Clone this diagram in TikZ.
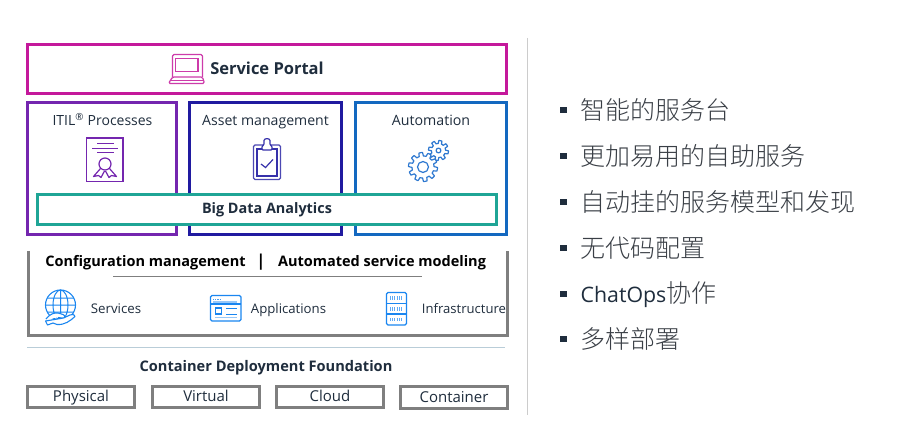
\documentclass[tikz,border=0pt]{standalone}
\usepackage{fontspec}
\setmainfont{Open Sans}
\newfontfamily\cjk{Noto Sans CJK SC Light}
\definecolor{pinkc}{HTML}{C4189B}
\definecolor{purplec}{HTML}{7426AF}
\definecolor{navyc}{HTML}{201AA0}
\definecolor{bluec}{HTML}{1368C0}
\definecolor{tealc}{HTML}{1FA596}
\definecolor{greyc}{HTML}{7F7F7F}
\definecolor{inkc}{HTML}{1F2D3D}
\definecolor{iconb}{HTML}{1A86F0}
\definecolor{gearc}{HTML}{2E78D0}
\definecolor{cjkc}{HTML}{3A3F46}
\definecolor{rulec}{HTML}{B9CDD8}
\newcommand{\fs}[1]{\fontsize{#1}{#1}\selectfont}
\tikzset{
  x=1pt,y=-1pt,
  framebox/.style={draw=#1,line width=3pt,fill=none,inner sep=0pt,outer sep=0pt},
  footbox/.style={draw=greyc,line width=3pt,fill=white,inner sep=0pt,minimum height=21pt,text=inkc,font=\fs{15},text height=13pt,text depth=3.5pt},
  label/.style={inner sep=0pt,text=inkc,anchor=base},
  heavy/.style={inner sep=0pt,text=black,anchor=base,font=\fs{14.5}\bfseries},
  bulletmark/.style={fill=inkc,inner sep=0pt,minimum size=6.5pt},
  listitem/.style={anchor=west,inner sep=0pt,text=cjkc,font=\fs{25}\cjk},
  gearline/.style={draw=gearc,line width=1.2pt,line join=round},
}
\newcommand{\gear}[6]{% cx cy rin rout teeth hole
  \draw[gearline,fill=white] plot[domain=0:360,samples=361] ({#1+(#3+(#4-#3)*max(0,min(1,0.5+1.4*sin(#5*\x)))*1)*cos(\x)},{#2+(#3+(#4-#3)*max(0,min(1,0.5+1.4*sin(#5*\x)))*1)*sin(\x)}) -- cycle;
  \draw[gearline] (#1,#2) circle (#6);
}
\begin{document}
\begin{tikzpicture}
\useasboundingbox (0,0) rectangle (898,441);
\fill[white] (0,0) rectangle (898,441);

% top frames
\node[framebox=pinkc,minimum width=479pt,minimum height=49pt] (portal) at (267,69) {};
\node[framebox=purplec,minimum width=149pt,minimum height=132pt] (itil) at (102,168.5) {};
\node[framebox=navyc,minimum width=152pt,minimum height=132pt] (asset) at (265.5,168.5) {};
\node[framebox=bluec,minimum width=151pt,minimum height=132pt] (auto) at (431,168.5) {};
\node[framebox=tealc,fill=white,minimum width=459pt,minimum height=30pt] (bigdata) at (267,209.5) {};

\node[label,font=\fs{16.5}\bfseries] (portaltext) at (267,74.5) {Service Portal};
\node[label,font=\fs{14}] (itiltext) at (102.5,126) {ITIL\textsuperscript{®} Processes};
\node[label,font=\fs{14.1}] (assettext) at (265.5,126) {Asset management};
\node[label,font=\fs{14.2}] (autotext) at (431,126) {Automation};
\node[label,font=\fs{14.4}\bfseries] (bigtext) at (267,214) {Big Data Analytics};

% laptop
\draw[pinkc!85,line width=1.2pt,rounded corners=1.5pt,line join=round]
  (172.5,77) -- (172.5,54.5) -- (202.5,54.5) -- (202.5,77);
\draw[pinkc!85,line width=1.2pt] (175.5,58.5) rectangle (198,71.5);
\draw[pinkc!85,line width=1.2pt,rounded corners=1.5pt]
  (172.5,77) -- (202.5,77) -- (204.5,83.5) -- (168.5,83.5) -- cycle;
\draw[pinkc!85,line width=.8pt] (170,80.5) -- (203.5,80.5);

% certificate
\draw[purplec,line width=1.2pt] (86.8,138) rectangle (123,181.5);
\draw[purplec,line width=1pt] (97,144) -- (114,144) (92,148.5) -- (118,148.5) (97,153) -- (114,153);
\draw[purplec,line width=1.2pt] (105,164) circle (6);
\draw[purplec,line width=1.2pt,line join=round]
  (100.5,168.5) -- (93.5,176.5) -- (98.5,175.5) -- (101,177.5) -- (104.5,171)
  (109.5,168.5) -- (116.5,176.5) -- (111.5,175.5) -- (109,177.5) -- (105.5,171);

% clipboard
\draw[navyc!80,line width=1.2pt,rounded corners=1.5pt] (253.5,145) rectangle (280.5,179.5);
\draw[navyc!90,line width=1.1pt] (257,149) rectangle (277,176);
\draw[navyc!90,fill=white,line width=1.2pt,rounded corners=1pt]
  (262,150) -- (262,146) -- (264,145) -- (264,141.5) .. controls (264,138) and (270,138) .. (270,141.5) -- (270,145) -- (272,146) -- (272,150) -- cycle;
\draw[navyc!90,line width=1.2pt] (261,164) -- (265.5,167.5) -- (273,159.5);

% gears
\gear{438.5}{150.5}{7}{10}{8}{2.4}
\gear{423}{167}{11}{14.5}{10}{5.5}

% configuration frame
\draw[greyc,line width=3pt] (28.5,251) -- (28.5,335.5) -- (507.5,335.5) -- (507.5,251);
\node[heavy] (cfg) at (145.5,266) {Configuration management};
\node[heavy,font=\fs{16.5}\bfseries] (bar) at (261,266.5) {|};
\node[heavy] (asm) at (382,266) {Automated service modeling};
\coordinate (ruleL) at (113,276);
\coordinate (ruleR) at (422,276);
\draw[greyc,line width=.9pt] (ruleL) -- (ruleR);

% globe
\draw[iconb,line width=1.1pt] (60.5,305) circle (15);
\draw[iconb,line width=1pt] (60.5,305) ellipse (7.5 and 15) (60.5,290) -- (60.5,320)
  (45.5,305) -- (75.5,305) (47.5,298) -- (73.5,298) (47.5,312) -- (73.5,312);
\draw[iconb,fill=white,line width=1.1pt,line join=round]
  (46,319) .. controls (50,314) and (54,312.5) .. (58,313) -- (63,314.5) .. controls (66,315.5) and (65,318.5) .. (62,318) -- (58,317.5)
  (63.5,318) -- (70,315) .. controls (73,314) and (75.5,315) .. (75,316.5) .. controls (70,321) and (65,325) .. (57,324.5) -- (53,323) -- (47.5,325) -- (45.5,321) -- cycle;
\node[label,font=\fs{13.3}] (services) at (116,313) {Services};

% window
\draw[iconb,line width=1.2pt,rounded corners=1.5pt] (210.5,295.5) rectangle (241,321);
\draw[iconb,line width=1.2pt] (210.5,304) -- (241,304);
\draw[iconb!80,line width=.9pt,dash pattern=on 1.2pt off 1pt] (213,299) -- (220,299);
\draw[iconb!45,line width=1.1pt] (213,302) -- (237,302);
\draw[iconb,line width=1.1pt] (215.5,308) rectangle (221.5,314);
\draw[iconb,line width=.9pt] (226,308.5) -- (236.5,308.5) (226,314) -- (236.5,314);
\draw[iconb!45,line width=1.1pt] (215,317.5) -- (236.5,317.5);
\node[label,font=\fs{13.2}] (apps) at (288.5,313) {Applications};

% server
\draw[iconb,line width=1.2pt,rounded corners=1.5pt] (386.5,292.5) rectangle (406.5,325);
\draw[iconb,line width=1.2pt] (386.5,303.5) -- (406.5,303.5) (386.5,314) -- (406.5,314);
\draw[iconb!70,line width=3.8pt,dash pattern=on .8pt off 1.4pt] (390,297.8) -- (403,297.8);
\draw[iconb!70,line width=3.8pt,dash pattern=on .8pt off 1.4pt] (390,308.8) -- (403,308.8);
\draw[iconb!70,line width=3.8pt,dash pattern=on .8pt off 1.4pt] (390,319.5) -- (403,319.5);
\node[label,font=\fs{13.1}] (infra) at (464,313) {Infrastructure};

% foundation
\coordinate (divL) at (27,347.5);
\coordinate (divR) at (505,347.5);
\draw[rulec,line width=.8pt] (divL) -- (divR);
\node[label,font=\fs{14.6}\bfseries] (found) at (266,371) {Container Deployment Foundation};
\node[footbox,minimum width=107pt] (physical) at (81,396.5) {Physical};
\node[footbox,minimum width=107pt] (virtual) at (206,396.5) {Virtual};
\node[footbox,minimum width=107pt] (cloud) at (330,396.5) {Cloud};
\node[footbox,minimum width=107pt,minimum height=22pt] (container) at (454,397.5) {Container};

% vertical divider
\coordinate (vT) at (527.5,38);
\coordinate (vB) at (527.5,415);
\draw[black!20,line width=1pt] (vT) -- (vB);

% list
\foreach \n/\yy/\t in {a/110/智能的服务台,b/156/更加易用的自助服务,c/202/自动挂的服务模型和发现,d/248/无代码配置,f/339/多样部署}{
  \node[bulletmark] (b\n) at (563.5,\yy) {};
  \node[listitem] (t\n) at (580.5,\yy) {\t};
}
\node[bulletmark] (be) at (563.5,294) {};
\node[listitem] (te) at (580.5,294.5) {{\rmfamily\fs{21.3}\color{inkc}ChatOps}协作};
\end{tikzpicture}
\end{document}
